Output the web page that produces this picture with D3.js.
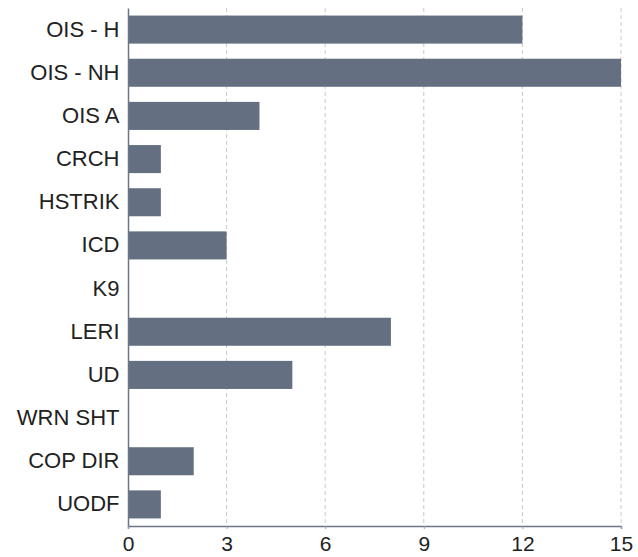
<!DOCTYPE html>
<html><head><meta charset="utf-8">
<script src="https://cdn.jsdelivr.net/npm/d3@7"></script>
<style>body{margin:0;background:#fff}text{font-family:"Liberation Sans",Arial,sans-serif}</style>
</head><body>
<svg id="c" width="638" height="557"></svg>
<script>
const categories = ["OIS - H","OIS - NH","OIS A","CRCH","HSTRIK","ICD","K9","LERI","UD","WRN SHT","COP DIR","UODF"];
const values = [12,15,4,1,1,3,0,8,5,0,2,1];
const xTicks = [0,3,6,9,12,15];

const svg = d3.select("#c");
const m = {left:128, right:17, top:8, bottom:31};
const W = 638, H = 557;
const x = d3.scaleLinear().domain([0,15]).range([m.left, W-m.right]);
const y = d3.scaleBand().domain(categories).range([m.top, H-m.bottom]).paddingInner(0.35).paddingOuter(0.175);

// grid
svg.append("g").selectAll("line").data(xTicks.slice(1)).join("line")
  .attr("x1",d=>x(d)).attr("x2",d=>x(d)).attr("y1",m.top).attr("y2",H-m.bottom)
  .attr("stroke","#c8c8cc").attr("stroke-dasharray","4,3").attr("stroke-width",1);

// bars
svg.append("g").selectAll("rect").data(categories).join("rect")
  .attr("x",x(0)).attr("y",d=>y(d))
  .attr("width",(d,i)=>x(values[i])-x(0)).attr("height",y.bandwidth())
  .attr("fill","#647082");

// x axis
const xa = svg.append("g").attr("transform",`translate(0,${H-m.bottom})`)
  .call(d3.axisBottom(x).tickValues(xTicks).tickSize(3).tickPadding(7));
xa.select(".domain").attr("stroke","#6b7585").attr("stroke-width",1.5);
xa.selectAll(".tick line").attr("stroke","#9aa0aa");
xa.selectAll("text").attr("font-size","21px").attr("fill","#222");

// y axis
const ya = svg.append("g").attr("transform",`translate(${m.left},0)`)
  .call(d3.axisLeft(y).tickSize(0).tickPadding(8.5));
ya.select(".domain").attr("stroke","#6b7585").attr("stroke-width",1.5);
ya.selectAll("text").attr("font-size","22px").attr("fill","#222");
</script>
</body></html>
